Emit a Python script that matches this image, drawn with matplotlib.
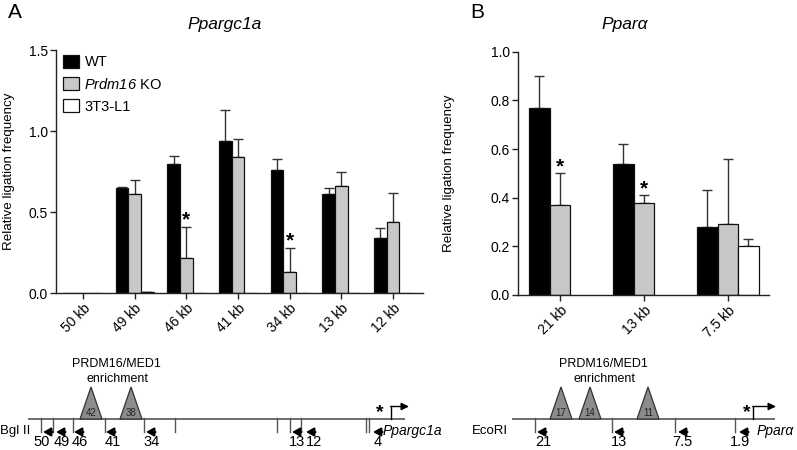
import numpy as np
import matplotlib
matplotlib.use("Agg")
import matplotlib.pyplot as plt
from matplotlib.patches import Polygon, Patch

plt.rcParams['font.family'] = ['Liberation Sans', 'DejaVu Sans']
plt.rcParams['mathtext.fontset'] = 'custom'
plt.rcParams['mathtext.it'] = 'Liberation Sans:italic'
plt.rcParams['mathtext.rm'] = 'Liberation Sans:italic'

# ---------------- data ----------------
a_cats = ["50 kb", "49 kb", "46 kb", "41 kb", "34 kb", "13 kb", "12 kb"]
a_wt = [0.0, 0.65, 0.80, 0.94, 0.76, 0.61, 0.34]
a_wt_err = [0.0, 0.005, 0.045, 0.19, 0.07, 0.04, 0.06]
a_ko = [0.0, 0.61, 0.22, 0.84, 0.13, 0.66, 0.44]
a_ko_err = [0.0, 0.09, 0.19, 0.11, 0.15, 0.09, 0.18]
a_l1 = [0.0, 0.006, 0.002, 0.0, 0.0, 0.0, 0.0]
a_l1_err = [0.0, 0.004, 0.0, 0.0, 0.0, 0.0, 0.0]
a_star = ["46 kb", "34 kb"]

b_cats = ["21 kb", "13 kb", "7.5 kb"]
b_wt = [0.77, 0.54, 0.28]
b_wt_err = [0.13, 0.08, 0.15]
b_ko = [0.37, 0.38, 0.29]
b_ko_err = [0.13, 0.03, 0.27]
b_l1 = [np.nan, np.nan, 0.20]
b_l1_err = [0.0, 0.0, 0.03]
b_star = ["21 kb", "13 kb"]

series_names = ["WT", r"$Prdm16$ KO", "3T3-L1"]
series_colors = ["#000000", "#c8c8c8", "#ffffff"]

# diagram schematic (pixel layout)
a_sites = [41, 53, 73, 105, 144, 175, 277, 290, 301, 366, 369]
a_primers = [(43, "50", 42), (56, "49", 62), (74, "46", 80), (106, "41", 113),
             (146, "34", 152), (292, "13", 297), (306, "12", 314), (373, "4", 378)]
a_peaks = [(91, "42"), (131, "38")]
b_sites = [535, 612, 675, 735]
b_primers = [(537, "21", 543), (614, "13", 619), (678, "7.5", 682), (739, "1.9", 740)]
b_peaks = [(561, "17"), (590, "14"), (648, "11")]

W, H = 797, 450
fig = plt.figure(figsize=(W / 100, H / 100), dpi=100)


def panel(rect, cats, series, errs, ylim, yticks, fmt, xlim, stars, star_off):
    ax = fig.add_axes(rect)
    x = np.arange(len(cats))
    w = 0.245
    for i, (vals, er, col) in enumerate(zip(series, errs, series_colors)):
        vals = np.array(vals, dtype=float)
        er = np.array(er, dtype=float)
        pos = x + (i - 1) * w
        ax.bar(pos, vals, width=w, color=col, edgecolor="#111111", linewidth=0.9, zorder=2)
        mask = (er > 0) & ~np.isnan(vals)
        if mask.any():
            ax.errorbar(pos[mask], vals[mask], yerr=[np.zeros(mask.sum()), er[mask]],
                        fmt="none", ecolor="#333333", elinewidth=1.0, capsize=3.6,
                        capthick=1.0, zorder=1)
    ko = np.array(series[1]); koe = np.array(errs[1])
    for s in stars:
        j = cats.index(s)
        ax.annotate("*", (x[j], ko[j] + koe[j]), xytext=(0, star_off), textcoords="offset points",
                    ha="center", va="bottom", fontsize=15, fontweight="bold")
    ax.set_xlim(*xlim)
    ax.set_ylim(*ylim)
    ax.set_yticks(yticks)
    ax.set_yticklabels([fmt.format(v) for v in yticks], fontsize=10)
    ax.set_xticks(x)
    ax.set_xticklabels(cats, rotation=45, ha="right", rotation_mode="anchor", fontsize=10)
    for sp in ["top", "right"]:
        ax.spines[sp].set_visible(False)
    for sp in ["left", "bottom"]:
        ax.spines[sp].set_linewidth(1.0)
        ax.spines[sp].set_color("#222222")
    ax.tick_params(length=4, width=1.0, color="#222222", pad=2)
    ax.set_ylabel("Relative ligation frequency", fontsize=9.6, labelpad=4)
    return ax


axA = panel([56 / W, 1 - 293.3 / H, (423 - 56) / W, (293.3 - 50) / H], a_cats,
            [a_wt, a_ko, a_l1], [a_wt_err, a_ko_err, a_l1_err], (0, 1.5),
            [0, 0.5, 1.0, 1.5], "{:.1f}", (-0.52, 6.58), a_star, -2)
axB = panel([518 / W, 1 - 295 / H, (769 - 518) / W, (295 - 51.7) / H], b_cats,
            [b_wt, b_ko, b_l1], [b_wt_err, b_ko_err, b_l1_err], (0, 1.0),
            [0, 0.2, 0.4, 0.6, 0.8, 1.0], "{:.1f}", (-0.5, 2.49), b_star, -2)
axA.yaxis.set_label_coords(-0.112, 0.5)
axB.yaxis.set_label_coords(-0.25, 0.5)

handles = [Patch(facecolor=c, edgecolor="#111111", linewidth=0.9) for c in series_colors]
axA.legend(handles, series_names, loc="upper left", bbox_to_anchor=(0.004, 1.005), frameon=False,
           fontsize=10.5, handlelength=1.1, handleheight=1.0, handletextpad=0.35, labelspacing=0.52,
           borderaxespad=0)

# overlay for text & diagrams (pixel coordinates)
ov = fig.add_axes([0, 0, 1, 1])
ov.set_xlim(0, W)
ov.set_ylim(H, 0)
ov.axis("off")

ov.text(15, 13, "A", fontsize=15, ha="center", va="center")
ov.text(477, 13, "B", fontsize=15, ha="center", va="center")
ov.text(225, 24, "Ppargc1a", fontsize=12.5, style="italic", ha="center", va="center")
ov.text(625, 25, "Ppar\u03b1", fontsize=12.5, style="italic", ha="center", va="center")

base = 419
tick_bot = 432


def diagram(x0, x1, sites, primers, peaks, label, label_x, label_ha, gene, gene_x, star_x,
            prom_x, prom_x2, enr_x):
    ov.plot([x0, x1], [base, base], color="#555555", lw=1.2, solid_capstyle="butt")
    for s in sites:
        ov.plot([s, s], [base - 1, tick_bot], color="#555555", lw=1.0)
    for (px, txt, tx) in primers:
        ov.annotate("", xy=(px, tick_bot), xytext=(px + 9.5, tick_bot),
                    arrowprops=dict(arrowstyle="-|>,head_length=0.45,head_width=0.25", color="black",
                                    lw=1.5, shrinkA=0, shrinkB=0))
        ov.text(tx, 441.5, txt, fontsize=10.5, ha="center", va="center")
    for (cx, txt) in peaks:
        tri = Polygon([[cx - 11, base], [cx + 11, base], [cx, 387]], closed=True,
                      facecolor="#8c8c8c", edgecolor="#333333", lw=0.9, zorder=3)
        ov.add_patch(tri)
        ov.text(cx, 413, txt, fontsize=7, ha="center", va="center", color="#222222", zorder=4)
    ov.text(enr_x, 364, "PRDM16/MED1", fontsize=9, ha="center", va="center")
    ov.text(enr_x + 2, 379, "enrichment", fontsize=9, ha="center", va="center")
    ov.text(label_x, 431, label, fontsize=9.5, ha=label_ha, va="center")
    ov.text(gene_x, 431, gene, fontsize=10, style="italic", ha="left", va="center")
    ov.text(star_x, 413, "*", fontsize=14, fontweight="bold", ha="center", va="center")
    ov.plot([prom_x, prom_x], [base, 406.5], color="black", lw=1.0)
    ov.annotate("", xy=(prom_x2, 406.5), xytext=(prom_x - 0.5, 406.5),
                arrowprops=dict(arrowstyle="-|>,head_length=0.45,head_width=0.22", color="black",
                                lw=1.0, shrinkA=0, shrinkB=0))


diagram(28, 405, a_sites, a_primers, a_peaks, "Bgl II", 0.5, "left", "Ppargc1a", 383, 380,
        391, 409, 116)
diagram(512, 775, b_sites, b_primers, b_peaks, "EcoRI", 508, "right", "Ppar\u03b1", 757, 747,
        753, 776, 603)

fig.savefig("out.png", dpi=100)
